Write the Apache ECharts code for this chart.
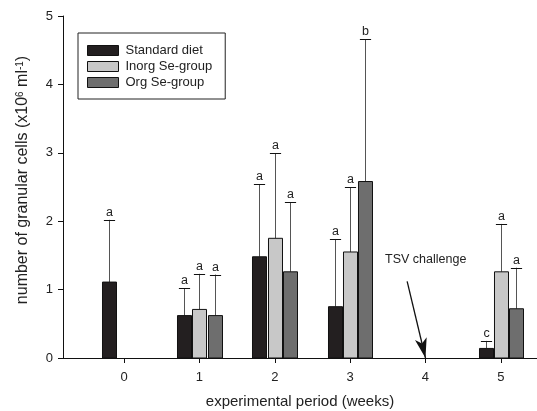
<!DOCTYPE html>
<html>
<head>
<meta charset="utf-8">
<script src="https://cdn.jsdelivr.net/npm/echarts@6/dist/echarts.min.js"></script>
<style>
html,body{margin:0;padding:0;background:#fff;}
#chart{width:537px;height:411px;}
</style>
</head>
<body>
<div id="chart"></div>
<script>
// ---- data ----
const weeks = ['0', '1', '2', '3', '4', '5'];
const weekPositions = [0, 1, 2, 3, 4, 5];
const yTicks = [0, 1, 2, 3, 4, 5];
const seriesNames = ['Standard diet', 'Inorg Se-group', 'Org Se-group'];

const standardMean = [1.11, 0.62, 1.48, 0.75, null, 0.14];
const standardSD   = [0.91, 0.40, 1.06, 0.99, null, 0.11];
const standardLetters = ['a', 'a', 'a', 'a', '', 'c'];

const inorgMean = [null, 0.71, 1.75, 1.55, null, 1.26];
const inorgSD   = [null, 0.52, 1.24, 0.95, null, 0.70];
const inorgLetters = ['', 'a', 'a', 'a', '', 'a'];

const orgMean = [null, 0.62, 1.26, 2.58, null, 0.72];
const orgSD   = [null, 0.60, 1.02, 2.08, null, 0.60];
const orgLetters = ['', 'a', 'a', 'b', '', 'a'];

const challengeWeek = 4;
const challengeLabel = 'TSV challenge';

// ---- styling ----
const FONT = '"Liberation Sans", Arial, Helvetica, sans-serif';
const BAR_W = 0.186;
const BAR_STEP = 0.203;
const colors = ['#231f20', '#c8c8c8', '#6e6e6e'];

function toData(mean, sd) {
  const out = [];
  for (let i = 0; i < mean.length; i++) {
    if (mean[i] != null) out.push([i, mean[i], sd[i]]);
  }
  return out;
}

function makeRender(offset, color, letters) {
  return function (params, api) {
    const i = api.value(0), v = api.value(1), sd = api.value(2);
    const x = i + offset;
    const top = api.coord([x, v]);
    const base = api.coord([x, 0]);
    const et = api.coord([x, v + sd]);
    const w = api.size([BAR_W, 0])[0];
    const cap = w * 0.8;
    const cx = Math.round(top[0]) + 0.5;
    const children = [
      { type: 'line', shape: { x1: cx, y1: top[1], x2: cx, y2: et[1] },
        style: { stroke: '#555', lineWidth: 1 } },
      { type: 'line', shape: { x1: cx - cap / 2, y1: Math.round(et[1]) + 0.5, x2: cx + cap / 2, y2: Math.round(et[1]) + 0.5 },
        style: { stroke: '#111', lineWidth: 1 } },
      { type: 'rect', shape: { x: cx - w / 2, y: top[1], width: w, height: base[1] - top[1] },
        style: { fill: color, stroke: '#111', lineWidth: 1 } }
    ];
    const letter = letters[i];
    if (letter) {
      children.push({ type: 'text', x: cx, y: et[1] - 1,
        style: { text: letter, fill: '#222', font: '12.5px ' + FONT, align: 'center', verticalAlign: 'bottom' } });
    }
    return { type: 'group', children: children };
  };
}

const chart = echarts.init(document.getElementById('chart'), null, { renderer: 'canvas' });

const option = {
  animation: false,
  backgroundColor: '#fff',
  textStyle: { fontFamily: FONT },
  grid: { left: 63, right: 0, top: 16, bottom: 53, containLabel: false, outerBoundsMode: 'none' },
  legend: {
    data: seriesNames,
    orient: 'vertical',
    left: 78, top: 33,
    padding: [11, 13, 10, 9],
    itemWidth: 31, itemHeight: 10, itemGap: 3,
    icon: 'rect',
    borderColor: '#222', borderWidth: 1,
    itemStyle: { borderColor: '#111', borderWidth: 1 },
    textStyle: { fontSize: 13, color: '#222', fontFamily: FONT, padding: [0, 0, 0, 2] }
  },
  xAxis: {
    type: 'value',
    min: -0.81, max: 5.48,
    name: 'experimental period (weeks)',
    nameLocation: 'middle', nameGap: 36,
    nameTextStyle: { fontSize: 15, color: '#222', fontFamily: FONT },
    axisLine: { show: true, onZero: false, lineStyle: { color: '#111', width: 1 } },
    axisTick: { show: true, length: 5, lineStyle: { color: '#111' }, customValues: weekPositions },
    axisLabel: { show: true, fontSize: 13, color: '#222', margin: 13, customValues: weekPositions,
      formatter: function (v) { return weeks[Math.round(v)]; } },
    splitLine: { show: false }
  },
  yAxis: {
    type: 'value',
    min: 0, max: 5, interval: 1,
    name: 'number of granular cells (x10{sup|6} ml{sup|-1})',
    nameLocation: 'middle', nameGap: 32,
    nameTextStyle: { fontSize: 16, color: '#222', fontFamily: FONT, padding: [0, 0, 0, 14],
      rich: { sup: { fontSize: 10, verticalAlign: 'top', padding: [0, 0, 4, 0], color: '#222', fontFamily: FONT } } },
    axisLine: { show: true, onZero: false, lineStyle: { color: '#111', width: 1 } },
    axisTick: { show: true, length: 5, lineStyle: { color: '#111' } },
    axisLabel: { fontSize: 13, color: '#222', margin: 10,
      formatter: function (v) { return String(yTicks[yTicks.indexOf(v)]); } },
    splitLine: { show: false }
  },
  series: [
    { name: seriesNames[0], type: 'custom', renderItem: makeRender(-BAR_STEP, colors[0], standardLetters),
      itemStyle: { color: colors[0], borderColor: '#111', borderWidth: 1 },
      encode: { x: 0, y: 1 }, data: toData(standardMean, standardSD) },
    { name: seriesNames[1], type: 'custom', renderItem: makeRender(0, colors[1], inorgLetters),
      itemStyle: { color: colors[1], borderColor: '#111', borderWidth: 1 },
      encode: { x: 0, y: 1 }, data: toData(inorgMean, inorgSD) },
    { name: seriesNames[2], type: 'custom', renderItem: makeRender(BAR_STEP, colors[2], orgLetters),
      itemStyle: { color: colors[2], borderColor: '#111', borderWidth: 1 },
      encode: { x: 0, y: 1 }, data: toData(orgMean, orgSD) },
    { name: 'annotation', type: 'line', data: [], silent: true,
      markLine: {
        silent: true, animation: false,
        symbol: ['none', 'arrow'], symbolSize: [9, 20],
        lineStyle: { color: '#111', width: 1.3, type: 'solid' },
        label: { show: false },
        data: [[ { coord: [challengeWeek - 0.243, 1.12] }, { coord: [challengeWeek, 0] } ]]
      },
      markPoint: {
        silent: true, animation: false,
        data: [{ coord: [challengeWeek - 0.53, 1.43], symbol: 'circle', symbolSize: 1,
          itemStyle: { color: 'rgba(0,0,0,0)' },
          label: { show: true, formatter: challengeLabel, position: [0, 0], align: 'left', verticalAlign: 'middle',
            fontSize: 12.5, color: '#222', fontFamily: FONT } }]
      }
    }
  ]
};
chart.setOption(option);
</script>
</body>
</html>
